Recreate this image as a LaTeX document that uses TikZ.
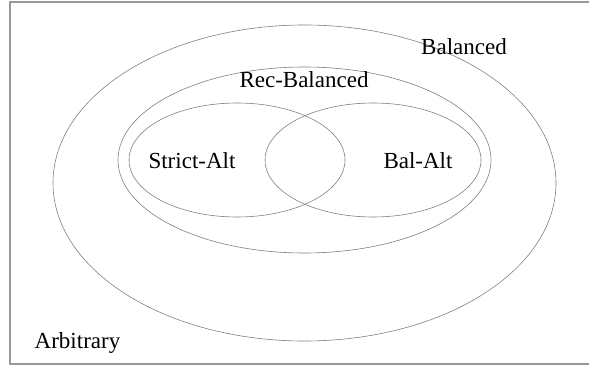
\documentclass[tikz,border=0pt]{standalone}
\usepackage{fontspec}
\setmainfont{Liberation Serif}
\usetikzlibrary{positioning}

\tikzset{
    setline/.style={draw=black!50, line width=0.6pt},
    setlabel/.style={font=\fontsize{23}{27}\selectfont, inner sep=0pt, anchor=base}
}

\begin{document}
\begin{tikzpicture}[x=1pt, y=-1pt]
    \clip (0,0) rectangle (589,366);
    \begin{scope}
        % Arbitrary - outer frame
        \draw [draw=black!40, line width=1.2pt] (10,2) rectangle (620,364);
        \node [setlabel] (arbitrary) at (77.5,348) {Arbitrary};

        % Balanced
        \draw [setline] (304.5,183) ellipse [x radius=251.5, y radius=158];
        \node [setlabel] (balanced) at (464,55) {Balanced};

        % Rec-Balanced
        \draw [setline] (304.5,160) ellipse [x radius=186.5, y radius=93];
        \node [setlabel] (recbal) at (304,88) {Rec-Balanced};

        % Strict-Alt and Bal-Alt
        \draw [setline] (237,160) ellipse [x radius=108, y radius=57];
        \draw [setline] (373,160) ellipse [x radius=108, y radius=57];
        \node [setlabel] (strictalt) at (192,169) {Strict-Alt};
        \node [setlabel] (balalt) at (418,169) {Bal-Alt};
    \end{scope}
\end{tikzpicture}
\end{document}
